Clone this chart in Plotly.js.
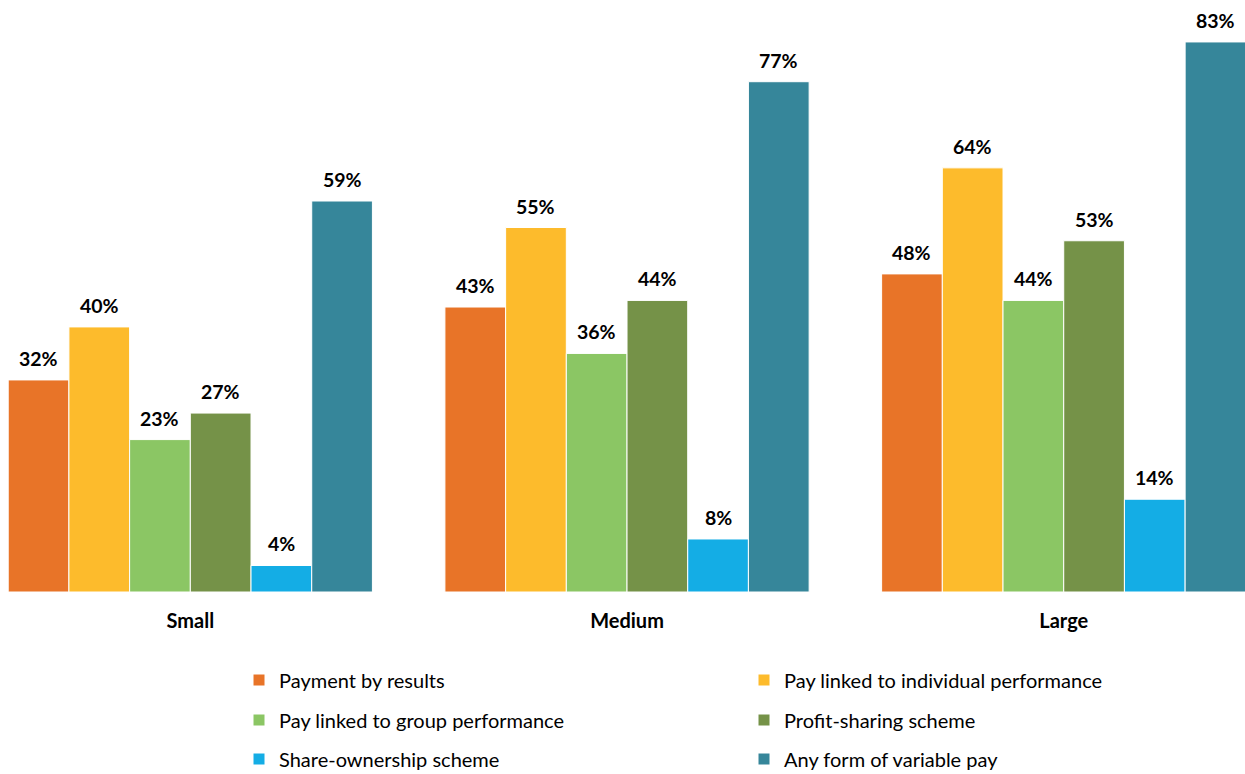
<!DOCTYPE html>
<html>
<head>
<meta charset="utf-8">
<script src="https://cdn.plot.ly/plotly-3.0.1.min.js"></script>
<style>html,body{margin:0;padding:0;background:#fff;}#chart{width:1245px;height:774px;}</style>
</head>
<body>
<div id="chart"></div>
<script>
const categories = ["Small", "Medium", "Large"];
const seriesNames = [
  "Payment by results",
  "Pay linked to individual performance",
  "Pay linked to group performance",
  "Profit-sharing scheme",
  "Share-ownership scheme",
  "Any form of variable pay"
];
const paymentByResults = [32, 43, 48];
const payIndividual = [40, 55, 64];
const payGroup = [23, 36, 44];
const profitSharing = [27, 44, 53];
const shareOwnership = [4, 8, 14];
const anyVariablePay = [59, 77, 83];
const seriesValues = [paymentByResults, payIndividual, payGroup, profitSharing, shareOwnership, anyVariablePay];
const colors = ["#E87428", "#FDBB2C", "#8BC664", "#759248", "#14ADE5", "#36869A"];

const FONT = "Lato, 'Open Sans', sans-serif";
const BARGAP = 0.166;
const legendIds = ["legend", "legend2", "legend3"];

const traces = seriesValues.map((vals, i) => ({
  type: "bar",
  name: seriesNames[i],
  x: categories,
  y: vals,
  marker: {color: colors[i], line: {color: "#ffffff", width: 1}},
  legend: legendIds[Math.floor(i / 2)],
  hoverinfo: "x+y+name"
}));

const n = seriesValues.length;
const groupW = 1 - BARGAP;
const annotations = [];
seriesValues.forEach((vals, i) => {
  vals.forEach((v, c) => {
    annotations.push({
      x: c - groupW / 2 + groupW / n * (i + 0.5),
      y: v,
      xref: "x", yref: "y",
      text: "<b>" + v + "%</b>",
      showarrow: false,
      yanchor: "bottom",
      yshift: 8,
      font: {family: FONT, size: 19.5, color: "#000"}
    });
  });
});

const plotH = 592;
function legendAt(py) {
  return {
    orientation: "h",
    x: 239 / 1245, xanchor: "left",
    y: (plotH - py) / plotH, yanchor: "middle",
    entrywidth: 460, entrywidthmode: "pixels",
    font: {family: FONT, size: 20, color: "#000"},
    bgcolor: "rgba(0,0,0,0)",
    traceorder: "normal"
  };
}

const layout = {
  width: 1245, height: 774,
  margin: {l: 0, r: 0, t: 0, b: 182, autoexpand: false},
  paper_bgcolor: "#fff", plot_bgcolor: "#fff",
  barmode: "group",
  bargap: BARGAP,
  bargroupgap: 0,
  xaxis: {
    type: "category",
    range: [-0.4358, 2.4151],
    showgrid: false, zeroline: false, showline: false,
    ticks: "",
    ticklabelstandoff: 15,
    tickfont: {family: FONT, size: 20, color: "#000", weight: "bold"},
    automargin: false,
    fixedrange: true
  },
  yaxis: {
    range: [0, 89.33],
    visible: false,
    showgrid: false, zeroline: false,
    automargin: false,
    fixedrange: true
  },
  showlegend: true,
  legend: legendAt(680),
  legend2: legendAt(720),
  legend3: legendAt(759),
  annotations: annotations
};

Plotly.newPlot("chart", traces, layout, {displayModeBar: false, staticPlot: true});
</script>
</body>
</html>
